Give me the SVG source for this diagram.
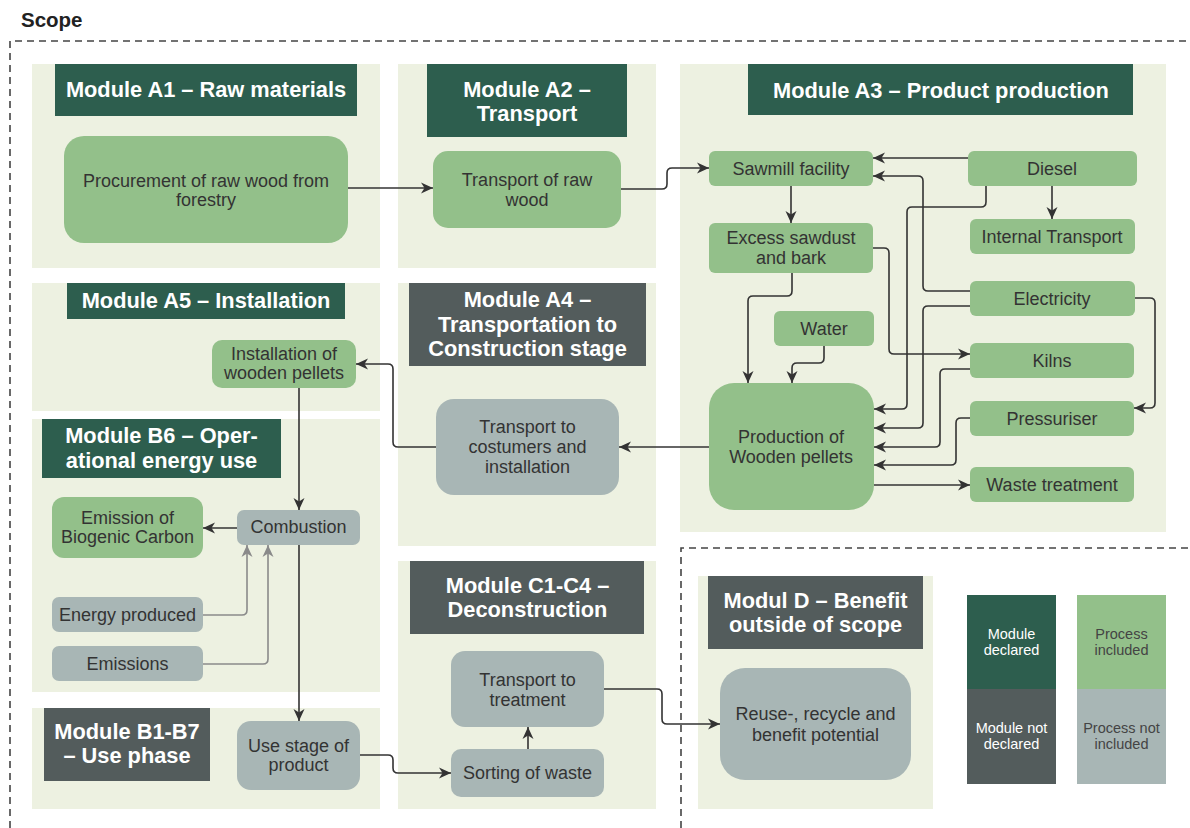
<svg xmlns="http://www.w3.org/2000/svg" width="1190" height="828" viewBox="0 0 1190 828">
<defs>
<style>
.panel{fill:#EDF1E1}
.hd{fill:#2D5E4E}
.hg{fill:#535C5C}
.pg{fill:#93C08A}
.pn{fill:#A8B6B5}
.ht{font-family:"Liberation Sans",Arial,sans-serif;font-weight:bold;font-size:21.8px;fill:#FFFFFF;text-anchor:middle}
.nt{font-family:"Liberation Sans",Arial,sans-serif;font-size:18px;fill:#333333;text-anchor:middle}
.lt{font-family:"Liberation Sans",Arial,sans-serif;font-size:14.5px;text-anchor:middle}
.c{fill:none;stroke:#333333;stroke-width:1.6;marker-end:url(#ah)}
.cg{fill:none;stroke:#8A8A8A;stroke-width:1.6;marker-end:url(#ahg)}
.dash{fill:none;stroke:#444444;stroke-width:1.6;stroke-dasharray:7 5}
</style>
<marker id="ah" markerUnits="userSpaceOnUse" markerWidth="13" markerHeight="13" viewBox="0 0 13 13" refX="12" refY="6.5" orient="auto">
<path d="M0,1 L12,6.5 L0,12 L3.5,6.5 Z" fill="#333333"/>
</marker>
<marker id="ahg" markerUnits="userSpaceOnUse" markerWidth="13" markerHeight="13" viewBox="0 0 13 13" refX="12" refY="6.5" orient="auto">
<path d="M0,1 L12,6.5 L0,12 L3.5,6.5 Z" fill="#8A8A8A"/>
</marker>
</defs>
<rect width="1190" height="828" fill="#FFFFFF"/>
<text x="21" y="27" font-family="Liberation Sans, Arial, sans-serif" font-weight="bold" font-size="20.5" fill="#222222">Scope</text>
<g id="scope-borders">
<path class="dash" d="M10,828 V41 H1190"/>
<path class="dash" d="M681,828 V548 H1190"/>
</g>
<g id="module-A1">
<rect class="panel" x="32" y="64" width="348" height="204"/>
<rect class="hd" x="55" y="64" width="302" height="52"/>
<text class="ht" x="206" y="97">Module A1 – Raw materials</text>
</g>
<g id="module-A2">
<rect class="panel" x="398" y="64" width="258" height="204"/>
<rect class="hd" x="427" y="64" width="200" height="73"/>
<text class="ht" x="527" y="97">Module A2 –</text>
<text class="ht" x="527" y="121">Transport</text>
</g>
<g id="module-A3">
<rect class="panel" x="680" y="64" width="486" height="468"/>
<rect class="hd" x="748" y="64" width="385" height="51"/>
<text class="ht" x="941" y="98">Module A3 – Product production</text>
</g>
<g id="module-A5">
<rect class="panel" x="32" y="283" width="348" height="128"/>
<rect class="hd" x="67" y="283" width="278" height="36"/>
<text class="ht" x="206" y="308">Module A5 – Installation</text>
</g>
<g id="module-B6">
<rect class="panel" x="32" y="419" width="348" height="273"/>
<rect class="hd" x="42" y="419" width="239" height="59"/>
<text class="ht" x="161.5" y="443">Module B6 – Oper-</text>
<text class="ht" x="161.5" y="468">ational energy use</text>
</g>
<g id="module-B1-B7">
<rect class="panel" x="32" y="708" width="348" height="101"/>
<rect class="hg" x="44" y="708" width="166" height="73"/>
<text class="ht" x="127" y="739">Module B1-B7</text>
<text class="ht" x="127" y="763">– Use phase</text>
</g>
<g id="module-A4">
<rect class="panel" x="398" y="283" width="258" height="263"/>
<rect class="hg" x="409" y="283" width="237" height="83"/>
<text class="ht" x="527.5" y="307">Module A4 –</text>
<text class="ht" x="527.5" y="332">Transportation to</text>
<text class="ht" x="527.5" y="356">Construction stage</text>
</g>
<g id="module-C1-C4">
<rect class="panel" x="398" y="561" width="258" height="248"/>
<rect class="hg" x="410" y="561" width="234" height="73"/>
<text class="ht" x="527.5" y="593">Module C1-C4 –</text>
<text class="ht" x="527.5" y="617">Deconstruction</text>
</g>
<g id="module-D">
<rect class="panel" x="698" y="576" width="235" height="233"/>
<rect class="hg" x="708" y="576" width="215" height="73"/>
<text class="ht" x="815.5" y="608">Modul D – Benefit</text>
<text class="ht" x="815.5" y="632">outside of scope</text>
</g>
<g id="legend">
<rect class="hd" x="967" y="595" width="89" height="94"/>
<rect class="hg" x="967" y="689" width="89" height="95"/>
<rect class="pg" x="1077" y="595" width="89" height="94"/>
<rect class="pn" x="1077" y="689" width="89" height="95"/>
<text class="lt" x="1011.5" y="639" fill="#FFFFFF">Module</text>
<text class="lt" x="1011.5" y="655" fill="#FFFFFF">declared</text>
<text class="lt" x="1011.5" y="733" fill="#FFFFFF">Module not</text>
<text class="lt" x="1011.5" y="749" fill="#FFFFFF">declared</text>
<text class="lt" x="1121.5" y="639" fill="#444444">Process</text>
<text class="lt" x="1121.5" y="655" fill="#444444">included</text>
<text class="lt" x="1121.5" y="733" fill="#444444">Process not</text>
<text class="lt" x="1121.5" y="749" fill="#444444">included</text>
</g>
<g id="n-procurement"><rect class="pg" x="64" y="136" width="284" height="107" rx="20"/><text class="nt" x="206" y="187">Procurement of raw wood from</text><text class="nt" x="206" y="206">forestry</text></g>
<g id="n-transport-raw"><rect class="pg" x="433" y="151" width="188" height="77" rx="15"/><text class="nt" x="527" y="186">Transport of raw</text><text class="nt" x="527" y="206">wood</text></g>
<g id="n-sawmill"><rect class="pg" x="709" y="151" width="164" height="35" rx="6"/><text class="nt" x="791" y="175">Sawmill facility</text></g>
<g id="n-diesel"><rect class="pg" x="968" y="151" width="169" height="35" rx="6"/><text class="nt" x="1052" y="175">Diesel</text></g>
<g id="n-internal"><rect class="pg" x="970" y="219" width="165" height="35" rx="6"/><text class="nt" x="1052" y="243">Internal Transport</text></g>
<g id="n-excess"><rect class="pg" x="709" y="223" width="164" height="50" rx="6"/><text class="nt" x="791" y="244">Excess sawdust</text><text class="nt" x="791" y="264">and bark</text></g>
<g id="n-electricity"><rect class="pg" x="970" y="281" width="165" height="35" rx="6"/><text class="nt" x="1052" y="305">Electricity</text></g>
<g id="n-water"><rect class="pg" x="774" y="311" width="100" height="35" rx="6"/><text class="nt" x="824" y="335">Water</text></g>
<g id="n-kilns"><rect class="pg" x="970" y="343" width="164" height="35" rx="6"/><text class="nt" x="1052" y="367">Kilns</text></g>
<g id="n-pressuriser"><rect class="pg" x="970" y="401" width="164" height="35" rx="6"/><text class="nt" x="1052" y="425">Pressuriser</text></g>
<g id="n-waste"><rect class="pg" x="970" y="467" width="164" height="35" rx="6"/><text class="nt" x="1052" y="491">Waste treatment</text></g>
<g id="n-production"><rect class="pg" x="709" y="383" width="165" height="127" rx="25"/><text class="nt" x="791" y="443">Production of</text><text class="nt" x="791" y="463">Wooden pellets</text></g>
<g id="n-installation"><rect class="pg" x="212" y="340" width="144" height="48" rx="10"/><text class="nt" x="284" y="360">Installation of</text><text class="nt" x="284" y="379">wooden pellets</text></g>
<g id="n-transport-cust"><rect class="pn" x="436" y="399" width="183" height="96" rx="18"/><text class="nt" x="527.5" y="433">Transport to</text><text class="nt" x="527.5" y="453">costumers and</text><text class="nt" x="527.5" y="473">installation</text></g>
<g id="n-emission-bio"><rect class="pg" x="52" y="497" width="151" height="61" rx="12"/><text class="nt" x="127.5" y="524">Emission of</text><text class="nt" x="127.5" y="543">Biogenic Carbon</text></g>
<g id="n-combustion"><rect class="pn" x="237" y="510" width="123" height="35" rx="7"/><text class="nt" x="298.5" y="533">Combustion</text></g>
<g id="n-energy"><rect class="pn" x="52" y="597" width="151" height="35" rx="7"/><text class="nt" x="127.5" y="621">Energy produced</text></g>
<g id="n-emissions"><rect class="pn" x="52" y="646" width="151" height="35" rx="7"/><text class="nt" x="127.5" y="670">Emissions</text></g>
<g id="n-use-stage"><rect class="pn" x="237" y="721" width="123" height="69" rx="14"/><text class="nt" x="298.5" y="752">Use stage of</text><text class="nt" x="298.5" y="771">product</text></g>
<g id="n-transport-treat"><rect class="pn" x="451" y="651" width="153" height="76" rx="14"/><text class="nt" x="527.5" y="686">Transport to</text><text class="nt" x="527.5" y="706">treatment</text></g>
<g id="n-sorting"><rect class="pn" x="451" y="749" width="153" height="48" rx="10"/><text class="nt" x="527.5" y="779">Sorting of waste</text></g>
<g id="n-reuse"><rect class="pn" x="720" y="668" width="191" height="112" rx="25"/><text class="nt" x="815.5" y="720">Reuse-, recycle and</text><text class="nt" x="815.5" y="741">benefit potential</text></g>
<g id="connectors">
<path class="c" d="M348,188 H433"/>
<path class="c" d="M621,189 H662 Q667,189 667,184 V173 Q667,168 672,168 H709"/>
<path class="c" d="M791,186 V223"/>
<path class="c" d="M968,158 H873"/>
<path class="c" d="M970,291 H928 Q923,291 923,286 V181 Q923,176 918,176 H873"/>
<path class="c" d="M986,186 V202 Q986,207 981,207 H912 Q907,207 907,212 V404 Q907,409 902,409 H874"/>
<path class="c" d="M1052,186 V219"/>
<path class="c" d="M970,306 H928 Q923,306 923,311 V423 Q923,428 918,428 H874"/>
<path class="c" d="M873,248 H884 Q889,248 889,253 V349 Q889,354 894,354 H970"/>
<path class="c" d="M970,369 H945 Q940,369 940,374 V442 Q940,447 935,447 H874"/>
<path class="c" d="M970,418 H961 Q956,418 956,423 V460 Q956,465 951,465 H874"/>
<path class="c" d="M874,485 H970"/>
<path class="c" d="M1135,298 H1150 Q1155,298 1155,303 V403 Q1155,408 1150,408 H1134"/>
<path class="c" d="M792,273 V291 Q792,296 787,296 H753 Q748,296 748,301 V383"/>
<path class="c" d="M824,346 V358 Q824,363 819,363 H797 Q792,363 792,368 V383"/>
<path class="c" d="M709,447 H619"/>
<path class="c" d="M436,447 H398 Q393,447 393,442 V369 Q393,364 388,364 H356"/>
<path class="c" d="M299,388 V510"/>
<path class="c" d="M237,528 H203"/>
<path class="cg" d="M203,615 H242 Q247,615 247,610 V545"/>
<path class="cg" d="M203,664 H263 Q268,664 268,659 V545"/>
<path class="c" d="M299,545 V721"/>
<path class="c" d="M360,755 H388 Q393,755 393,760 V768 Q393,773 398,773 H451"/>
<path class="c" d="M528,749 V727"/>
<path class="c" d="M604,689 H657 Q662,689 662,694 V719 Q662,724 667,724 H720"/>
</g>
</svg>
